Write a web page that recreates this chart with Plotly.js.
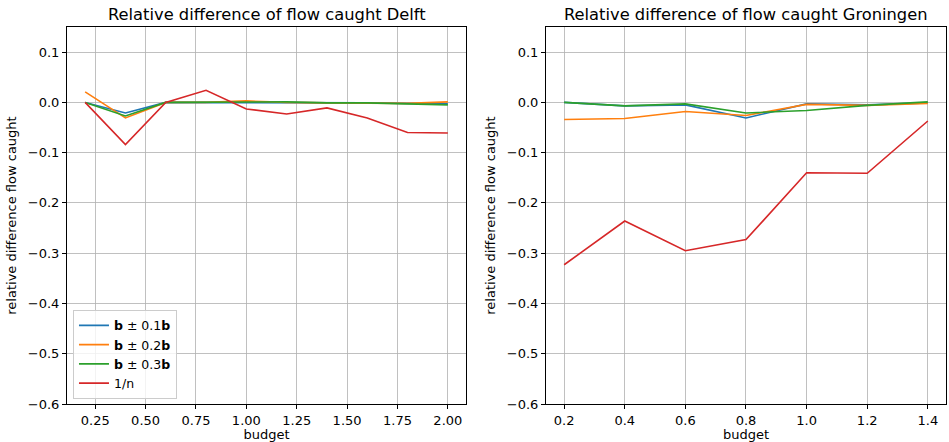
<!DOCTYPE html>
<html>
<head>
<meta charset="utf-8">
<script src="https://cdn.plot.ly/plotly-3.0.1.min.js"></script>
<style>html,body{margin:0;padding:0;background:#fff;}#chart{width:949px;height:442px;}</style>
</head>
<body>
<div id="chart"></div>
<script>
const budgetDelft = [0.2, 0.4, 0.6, 0.8, 1.0, 1.2, 1.4, 1.6, 1.8, 2.0];
const delftB01 = [0.0, -0.021, 0.0, 0.0, -0.001, 0.0, -0.001, -0.001, -0.002, -0.003];
const delftB02 = [0.021, -0.031, 0.0, 0.0, 0.003, 0.0, -0.001, -0.001, -0.002, 0.001];
const delftB03 = [0.0, -0.027, 0.0, 0.0, 0.0, 0.001, -0.001, -0.001, -0.003, -0.005];
const delftInvN = [0.0, -0.084, 0.0, 0.024, -0.013, -0.023, -0.011, -0.031, -0.060, -0.061];

const budgetGroningen = [0.2, 0.4, 0.6, 0.8, 1.0, 1.2, 1.4];
const groB01 = [0.0, -0.007, -0.005, -0.031, -0.003, -0.005, -0.001];
const groB02 = [-0.034, -0.032, -0.018, -0.026, -0.004, -0.006, -0.002];
const groB03 = [0.0, -0.007, -0.003, -0.021, -0.016, -0.006, 0.001];
const groInvN = [-0.323, -0.236, -0.295, -0.273, -0.140, -0.141, -0.037];

const seriesNames = ['<b>b</b> ± 0.1<b>b</b>', '<b>b</b> ± 0.2<b>b</b>', '<b>b</b> ± 0.3<b>b</b>', '1/n'];
const colors = ['#1f77b4', '#ff7f0e', '#2ca02c', '#d62728'];
const yTicks = [0.1, 0.0, -0.1, -0.2, -0.3, -0.4, -0.5, -0.6];
const xTicksDelft = [0.25, 0.5, 0.75, 1.0, 1.25, 1.5, 1.75, 2.0];
const xTicksGroningen = [0.2, 0.4, 0.6, 0.8, 1.0, 1.2, 1.4];

const delftSeries = [delftB01, delftB02, delftB03, delftInvN];
const groSeries = [groB01, groB02, groB03, groInvN];

const traces = [];
delftSeries.forEach((ys, i) => traces.push({
  x: budgetDelft, y: ys, type: 'scatter', mode: 'lines', name: seriesNames[i],
  line: {color: colors[i], width: 1.6}, xaxis: 'x', yaxis: 'y', showlegend: true
}));
groSeries.forEach((ys, i) => traces.push({
  x: budgetGroningen, y: ys, type: 'scatter', mode: 'lines', name: seriesNames[i],
  line: {color: colors[i], width: 1.6}, xaxis: 'x2', yaxis: 'y2', showlegend: false
}));

function pad(arr) {
  const lo = Math.min(...arr), hi = Math.max(...arr), m = (hi - lo) * 0.05;
  return [lo - m, hi + m];
}

const font = {family: 'DejaVu Sans', size: 12, color: '#000'};
const axisCommon = {
  showline: true, linecolor: '#000', linewidth: 1, mirror: true,
  ticks: 'outside', ticklen: 4, tickcolor: '#000', tickwidth: 1,
  showgrid: true, gridcolor: '#b0b0b0', gridwidth: 0.8, zeroline: false,
  tickfont: {family: 'DejaVu Sans', size: 13, color: '#000'}
};
const yAxis = Object.assign({}, axisCommon, {
  range: [-0.6, 0.15], tickvals: yTicks, tickformat: '.1f',
  title: {text: 'relative difference flow caught', font: {family: 'DejaVu Sans', size: 13}, standoff: 8}
});

const layout = {
  width: 949, height: 442,
  margin: {l: 67, r: 3, t: 27, b: 38},
  paper_bgcolor: '#fff', plot_bgcolor: '#fff',
  font: font,
  xaxis: Object.assign({}, axisCommon, {
    domain: [0, 0.4539], range: pad(budgetDelft), tickvals: xTicksDelft, tickformat: '.2f',
    title: {text: 'budget', font: {family: 'DejaVu Sans', size: 13}, standoff: 1}, anchor: 'y'
  }),
  yaxis: Object.assign({}, yAxis, {anchor: 'x'}),
  xaxis2: Object.assign({}, axisCommon, {
    domain: [0.5449, 1.0], range: pad(budgetGroningen), tickvals: xTicksGroningen, tickformat: '.1f',
    title: {text: 'budget', font: {family: 'DejaVu Sans', size: 13}, standoff: 1}, anchor: 'y2'
  }),
  yaxis2: Object.assign({}, yAxis, {anchor: 'x2'}),
  showlegend: true,
  legend: {
    x: 0.0068, y: 0.25, xanchor: 'left', yanchor: 'top',
    bgcolor: 'rgba(255,255,255,0.8)', bordercolor: '#cccccc', borderwidth: 1,
    font: {family: 'DejaVu Sans', size: 12.5, color: '#000'}, tracegroupgap: 0
  },
  annotations: [
    {text: 'Relative difference of flow caught Delft', xref: 'paper', yref: 'paper',
     x: 0.2270, y: 1.0, xanchor: 'center', yanchor: 'bottom', yshift: 1, showarrow: false,
     font: {family: 'DejaVu Sans', size: 16.3, color: '#000'}},
    {text: 'Relative difference of flow caught Groningen', xref: 'paper', yref: 'paper',
     x: 0.7725, y: 1.0, xanchor: 'center', yanchor: 'bottom', yshift: 1, showarrow: false,
     font: {family: 'DejaVu Sans', size: 16.3, color: '#000'}}
  ]
};

Plotly.newPlot('chart', traces, layout, {displayModeBar: false, staticPlot: true});
</script>
</body>
</html>
